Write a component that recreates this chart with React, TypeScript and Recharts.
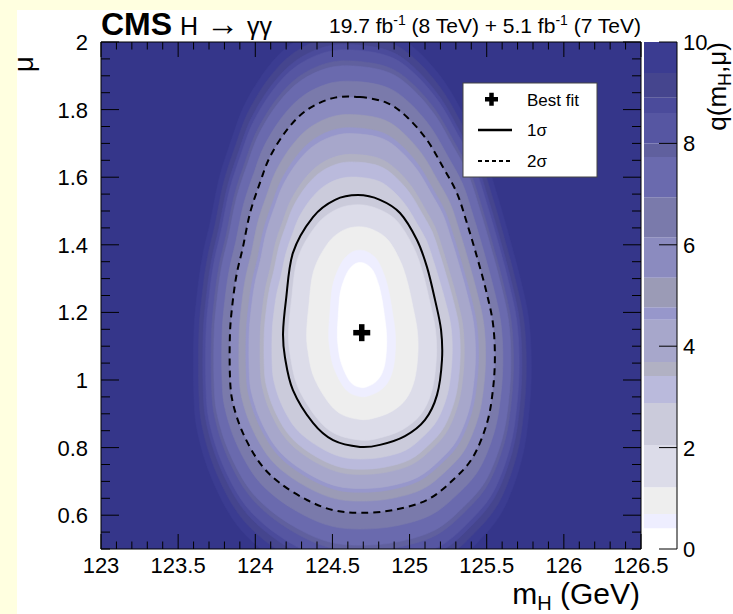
import React from 'react';
import { ComposedChart, Scatter, XAxis, YAxis, CartesianGrid, ReferenceArea } from 'recharts';

const FONT = "'Liberation Sans', Arial, Helvetica, sans-serif";
const W = 733;
const H = 614;

// Best-fit point (m_H in GeV, signal strength mu)
const BEST_FIT = [{ x: 124.69, y: 1.14 }];

// 68% CL contour (1 sigma), clockwise from the top
const ONE_SIGMA: [number, number][] = [
  [124.666, 1.547], [124.808, 1.533], [124.938, 1.494], [125.048, 1.414], [125.113, 1.334],
  [125.165, 1.237], [125.204, 1.148], [125.21, 1.059], [125.178, 0.956], [125.1, 0.882],
  [124.97, 0.834], [124.808, 0.808], [124.679, 0.802], [124.504, 0.822], [124.374, 0.873],
  [124.244, 0.97], [124.192, 1.068], [124.18, 1.139], [124.199, 1.237], [124.244, 1.376],
  [124.374, 1.482], [124.517, 1.533],
];

// 95% CL contour (2 sigma), clockwise from the top
const TWO_SIGMA: [number, number][] = [
  [124.679, 1.837], [124.853, 1.82], [124.983, 1.778], [125.113, 1.71], [125.216, 1.63],
  [125.307, 1.553], [125.372, 1.464], [125.437, 1.364], [125.495, 1.266], [125.54, 1.169],
  [125.553, 1.068], [125.54, 0.97], [125.502, 0.873], [125.411, 0.772], [125.281, 0.704],
  [125.113, 0.645], [124.892, 0.615], [124.679, 0.607], [124.504, 0.615], [124.335, 0.645],
  [124.16, 0.695], [124.03, 0.754], [123.92, 0.843], [123.855, 0.932], [123.836, 1.009],
  [123.836, 1.139], [123.855, 1.237], [123.881, 1.317], [123.92, 1.393], [123.966, 1.494],
  [124.03, 1.583], [124.095, 1.66], [124.205, 1.74], [124.335, 1.799], [124.504, 1.834],
];

// Colour-scale band edges in q(m_H, mu) and the fill of each band (lowest first)
const BAND_EDGES = [0, 0.41, 0.69, 1.22, 2.05, 2.88, 3.41, 3.69, 4.52, 4.77, 5.35, 6.15, 6.94, 7.73, 8.0, 8.6, 8.9, 9.39, 10];
const BAND_COLORS = [
  '#ffffff', '#eeeeff', '#eeeeee', '#dcdce9', '#cbcbdb', '#babadc', '#b1b1c3', '#a7a7cb', '#9797cb',
  '#9b9bb6', '#8b8bbf', '#7a7aab', '#6a6aae', '#60609e', '#5656a2', '#4b4b9b', '#45458e', '#3b3c91',
];
const ABOVE_RANGE_COLOR = '#35368a';

// Extent of each iso-q contour (one per upper band edge) relative to the
// 1 sigma or 2 sigma contour it follows: horizontal, upward and downward size
const LEVEL_SHAPE = ['one', 'one', 'one', 'one', 'two', 'two', 'two', 'two', 'two', 'two', 'two', 'two', 'two', 'two', 'two', 'two', 'two', 'two'];
const LEVEL_SX = [0.31, 0.42, 0.7, 0.93, 0.68, 0.74, 0.77, 0.854, 0.877, 0.93, 0.998, 1.06, 1.12, 1.14, 1.182, 1.203, 1.236, 1.274];
const LEVEL_SUP = [0.51, 0.6, 0.77, 0.93, 0.659, 0.723, 0.755, 0.843, 0.868, 0.924, 0.997, 1.065, 1.13, 1.151, 1.198, 1.221, 1.257, 1.299];
const LEVEL_SDOWN = [0.48, 0.56, 0.76, 0.94, 0.701, 0.758, 0.787, 0.865, 0.886, 0.935, 0.998, 1.09, 1.18, 1.21, 1.28, 1.31, 1.36, 1.42];

const X_TICKS = [123, 123.5, 124, 124.5, 125, 125.5, 126, 126.5];
const Y_TICKS = [0.6, 0.8, 1, 1.2, 1.4, 1.6, 1.8, 2];
const Z_TICKS = [0, 2, 4, 6, 8, 10];

const X_MINOR = Array.from({ length: 36 }, (_, i) => Math.round((123 + i * 0.1) * 10) / 10).filter(
  (v) => !X_TICKS.includes(v)
);
const Y_MINOR = Array.from({ length: 31 }, (_, i) => Math.round((0.5 + i * 0.05) * 100) / 100).filter(
  (v) => !Y_TICKS.includes(v)
);
const X_ALL = [...X_TICKS, ...X_MINOR].sort((a, b) => a - b);
const Y_ALL = [...Y_TICKS, ...Y_MINOR].sort((a, b) => a - b);

const toPoints = (pts: [number, number][]) => pts.map(([x, y]) => ({ x, y }));

const levelContour = (i: number) => {
  const c = BEST_FIT[0];
  const tpl = LEVEL_SHAPE[i] === 'one' ? ONE_SIGMA : TWO_SIGMA;
  return tpl.map(([m, u]) => ({
    x: c.x + (m - c.x) * LEVEL_SX[i],
    y: c.y + (u - c.y) * (u >= c.y ? LEVEL_SUP[i] : LEVEL_SDOWN[i]),
  }));
};

// Smooth closed path (Catmull-Rom) through pixel points
const closedPath = (pts: { x: number; y: number }[]) => {
  const p = pts.filter((q) => q.x != null && q.y != null);
  const n = p.length;
  if (n < 3) return '';
  let d = `M${p[0].x},${p[0].y}`;
  for (let i = 0; i < n; i++) {
    const p0 = p[(i - 1 + n) % n];
    const p1 = p[i];
    const p2 = p[(i + 1) % n];
    const p3 = p[(i + 2) % n];
    const c1x = p1.x + (p2.x - p0.x) / 6;
    const c1y = p1.y + (p2.y - p0.y) / 6;
    const c2x = p2.x - (p3.x - p1.x) / 6;
    const c2y = p2.y - (p3.y - p1.y) / 6;
    d += `C${c1x},${c1y},${c2x},${c2y},${p2.x},${p2.y}`;
  }
  return d + 'Z';
};

const NoSymbol = () => <g />;

const BestFitMarker = (props: any) => {
  const { cx, cy } = props;
  return (
    <g>
      <rect x={cx - 8.5} y={cy - 2.75} width={17} height={5.5} fill="#000" />
      <rect x={cx - 2.75} y={cy - 8.5} width={5.5} height={17} fill="#000" />
    </g>
  );
};

const LABEL_SIZE = 22;

// Tick renderer: draws an inward-pointing tick mark (long for major, short
// for minor) and, if wanted, the label of a major tick outside the frame.
type Side = 'bottom' | 'left' | 'top' | 'right';
const makeTick =
  (side: Side, gap: number, majors: number[], majorLen: number, minorLen: number, labels: boolean) =>
  (props: any) => {
    const { x, y, payload } = props;
    const v = payload.value;
    const major = majors.includes(v);
    const len = major ? majorLen : minorLen;
    let line: any = null;
    let label: any = null;
    if (side === 'bottom') {
      line = <line x1={x} y1={y - gap} x2={x} y2={y - gap - len} stroke="#000" strokeWidth={1} />;
      if (labels && major)
        label = (
          <text x={x} y={y} dy="0.72em" textAnchor="middle" fontSize={LABEL_SIZE} fontFamily={FONT} fill="#000">
            {String(v)}
          </text>
        );
    } else if (side === 'left') {
      line = <line x1={x + gap} y1={y} x2={x + gap + len} y2={y} stroke="#000" strokeWidth={1} />;
      if (labels && major)
        label = (
          <text x={x} y={y} dy="0.36em" textAnchor="end" fontSize={LABEL_SIZE} fontFamily={FONT} fill="#000">
            {String(v)}
          </text>
        );
    } else if (side === 'top') {
      line = <line x1={x} y1={y + gap} x2={x} y2={y + gap + len} stroke="#000" strokeWidth={1} />;
    } else {
      line = <line x1={x - gap} y1={y} x2={x - gap - len} y2={y} stroke="#000" strokeWidth={1} />;
      if (labels && major)
        label = (
          <text x={x} y={y} dy="0.36em" textAnchor="start" fontSize={LABEL_SIZE} fontFamily={FONT} fill="#000">
            {String(v)}
          </text>
        );
    }
    return (
      <g>
        {line}
        {label}
      </g>
    );
  };

const frameLine = { stroke: '#000', strokeWidth: 1 };

export default function App() {
  const bands = BAND_COLORS.map((color, i) => ({ color, points: levelContour(i) })).reverse();

  return (
    <div
      style={{
        position: 'absolute',
        left: 0,
        top: 0,
        width: W,
        height: H,
        background: '#ffffe0',
        overflow: 'hidden',
        fontFamily: FONT,
      }}
    >
      <div style={{ position: 'absolute', left: 17, top: 10, width: W - 17, height: H - 10, background: '#fff' }} />

      {/* likelihood scan */}
      <div style={{ position: 'absolute', left: 0, top: 0 }}>
        <ComposedChart width={W} height={H} margin={{ top: 41, left: 100, right: W - 641 - 1, bottom: H - 549 - 1 }}>
          <CartesianGrid fill={ABOVE_RANGE_COLOR} stroke="none" horizontal={false} vertical={false} />
          {bands.map((b, i) => (
            <Scatter
              key={`band-${i}`}
              data={b.points}
              isAnimationActive={false}
              shape={NoSymbol}
              zIndex={200}
              line={(p: any) => (
                <path d={closedPath(p.points)} fill={b.color} stroke={b.color} strokeWidth={0.6} />
              )}
            />
          ))}
          <Scatter
            data={toPoints(TWO_SIGMA)}
            isAnimationActive={false}
            shape={NoSymbol}
            zIndex={300}
            line={(p: any) => (
              <path d={closedPath(p.points)} fill="none" stroke="#000" strokeWidth={2} strokeDasharray="7 5" />
            )}
          />
          <Scatter
            data={toPoints(ONE_SIGMA)}
            isAnimationActive={false}
            shape={NoSymbol}
            zIndex={300}
            line={(p: any) => <path d={closedPath(p.points)} fill="none" stroke="#000" strokeWidth={2} />}
          />
          <Scatter data={BEST_FIT} isAnimationActive={false} shape={BestFitMarker} zIndex={400} />
          {/* ties the top and right frame axes to the same m_H / mu ranges */}
          <Scatter data={BEST_FIT} xAxisId="top" yAxisId="right" isAnimationActive={false} shape={NoSymbol} />

          <XAxis
            type="number"
            dataKey="x"
            domain={[123, 126.5]}
            allowDataOverflow
            ticks={X_ALL}
            interval={0}
            height={1}
            tickSize={0}
            tickMargin={8}
            tickLine={false}
            axisLine={frameLine}
            tick={makeTick('bottom', 8, X_TICKS, 15, 7.5, true)}
          />
          <YAxis
            type="number"
            dataKey="y"
            domain={[0.5, 2]}
            allowDataOverflow
            ticks={Y_ALL}
            interval={0}
            width={1}
            tickSize={0}
            tickMargin={13}
            tickLine={false}
            axisLine={frameLine}
            tick={makeTick('left', 13, Y_TICKS, 18, 9, true)}
          />
          <XAxis
            xAxisId="top"
            orientation="top"
            type="number"
            dataKey="x"
            domain={[123, 126.5]}
            allowDataOverflow
            ticks={X_ALL}
            interval={0}
            height={1}
            tickSize={0}
            tickMargin={0}
            tickLine={false}
            axisLine={frameLine}
            tick={makeTick('top', 0, X_TICKS, 15, 7.5, false)}
          />
          <YAxis
            yAxisId="right"
            orientation="right"
            type="number"
            dataKey="y"
            domain={[0.5, 2]}
            allowDataOverflow
            ticks={Y_ALL}
            interval={0}
            width={1}
            tickSize={0}
            tickMargin={0}
            tickLine={false}
            axisLine={frameLine}
            tick={makeTick('right', 0, Y_TICKS, 18, 9, false)}
          />
        </ComposedChart>
      </div>

      {/* colour scale */}
      <div style={{ position: 'absolute', left: 0, top: 0 }}>
        <ComposedChart
          width={W}
          height={H}
          margin={{ top: 42, left: 644, right: W - 677 - 1, bottom: H - 549 }}
          data={[{ u: 0, q: 0 }, { u: 1, q: 10 }]}
        >
          <XAxis type="number" dataKey="u" domain={[0, 1]} allowDataOverflow hide />
          {BAND_COLORS.map((color, i) => (
            <ReferenceArea
              key={`z-${i}`}
              y1={BAND_EDGES[i]}
              y2={BAND_EDGES[i + 1]}
              fill={color}
              fillOpacity={1}
              stroke="none"
              ifOverflow="visible"
            />
          ))}
          <YAxis
            type="number"
            dataKey="q"
            orientation="right"
            domain={[0, 10]}
            allowDataOverflow
            ticks={Z_TICKS}
            interval={0}
            width={1}
            tickSize={0}
            tickMargin={6}
            tickLine={false}
            axisLine={frameLine}
            tick={makeTick('right', 6, Z_TICKS, 18, 0, true)}
          />
        </ComposedChart>
      </div>

      {/* titles and legend */}
      <svg width={W} height={H} style={{ position: 'absolute', left: 0, top: 0, pointerEvents: 'none' }} fontFamily={FONT}>
        <text x={101} y={35} fontSize={32} fontWeight="bold" fill="#000">CMS</text>
        <text x={180} y={35} fontSize={25} fill="#000">
          H<tspan dx={8} fontSize={33}>→</tspan>
          <tspan dx={8}>γγ</tspan>
        </text>
        <text x={641} y={33} fontSize={21} textAnchor="end" fill="#000">
          19.7 fb<tspan fontSize={14} dy={-8}>-1</tspan>
          <tspan dy={8}> (8 TeV) + 5.1 fb</tspan>
          <tspan fontSize={14} dy={-8}>-1</tspan>
          <tspan dy={8}> (7 TeV)</tspan>
        </text>
        <text x={640} y={604} fontSize={30} textAnchor="end" fill="#000">
          m<tspan fontSize={20} dy={6}>H</tspan>
          <tspan dy={-6}> (GeV)</tspan>
        </text>
        <text transform="translate(33,56) rotate(-90)" fontSize={28} textAnchor="end" fill="#000">μ</text>
        <text transform="translate(726,42) rotate(-90)" fontSize={26} textAnchor="end" fill="#000">
          q(m<tspan fontSize={18} dy={5}>H</tspan>
          <tspan dy={-5}>,μ)</tspan>
        </text>

        <rect x={463} y={83} width={134} height={94} fill="#fff" stroke="#444" strokeWidth={1} />
        <rect x={485} y={97} width={13} height={4.5} fill="#000" />
        <rect x={489.25} y={92.75} width={4.5} height={13} fill="#000" />
        <text x={527} y={106} fontSize={17} fill="#000">Best fit</text>
        <line x1={478} y1={130} x2={512} y2={130} stroke="#000" strokeWidth={2.5} />
        <text x={527} y={136} fontSize={17} fill="#000">1σ</text>
        <line x1={478} y1={161} x2={512} y2={161} stroke="#000" strokeWidth={2} strokeDasharray="4 3" />
        <text x={527} y={167} fontSize={17} fill="#000">2σ</text>
      </svg>
    </div>
  );
}
